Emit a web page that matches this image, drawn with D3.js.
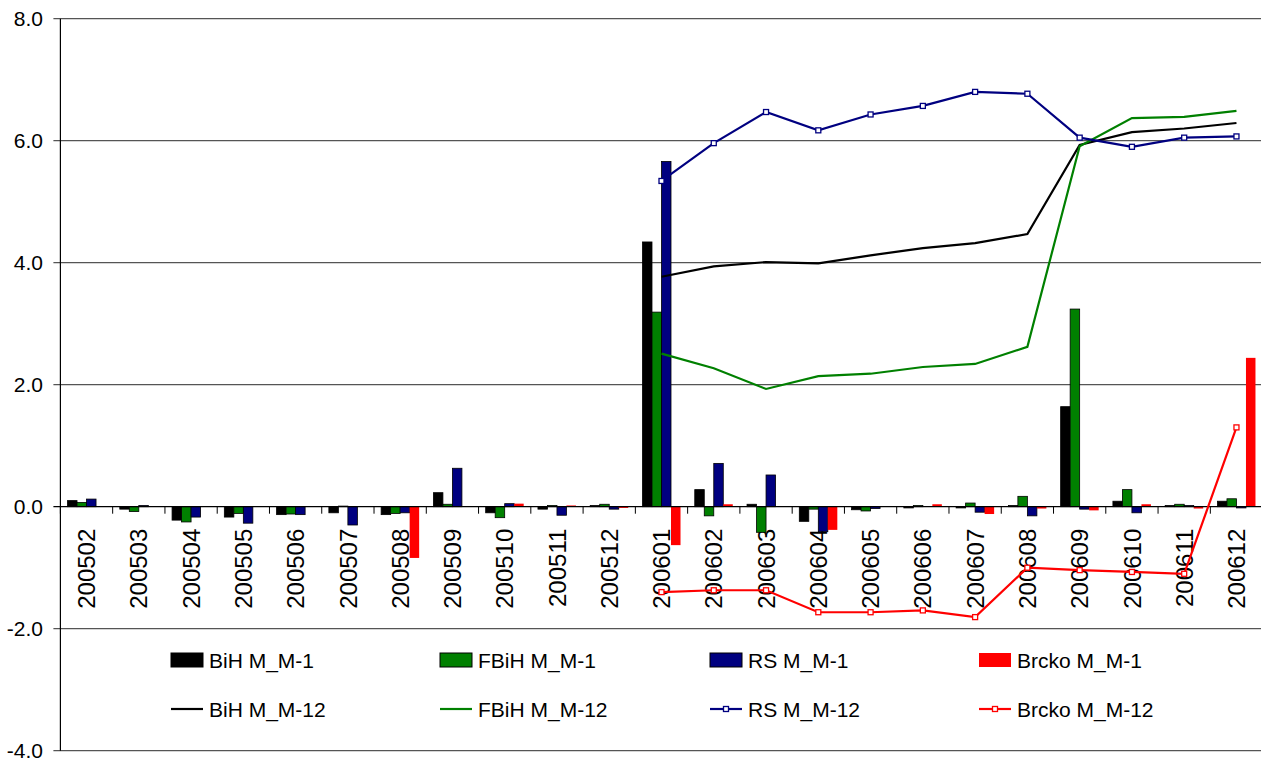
<!DOCTYPE html>
<html>
<head>
<meta charset="utf-8">
<script src="https://cdn.jsdelivr.net/npm/d3@7"></script>
<style>
  body { margin: 0; background: #fff; }
  svg { display: block; }
  .ylab { font-family: "Liberation Sans", Arial, sans-serif; font-size: 21px; }
  .xlab { font-family: "Liberation Sans Narrow", "Arial Narrow", "Liberation Sans", sans-serif; font-size: 24px; }
  .leg { font-family: "Liberation Sans", Arial, sans-serif; font-size: 21px; }
</style>
</head>
<body>
<svg id="chart" width="1261" height="762"></svg>
<script>
var months = ["200502","200503","200504","200505","200506","200507","200508","200509","200510","200511","200512",
  "200601","200602","200603","200604","200605","200606","200607","200608","200609","200610","200611","200612"];

// month-on-month change (bars)
var bih_m1   = [0.10,-0.04,-0.22,-0.17,-0.13,-0.10,-0.13,0.23,-0.10,-0.04,0.02,4.34,0.28,0.04,-0.24,-0.05,-0.02,-0.02,0.02,1.64,0.09,0.02,0.09];
var fbih_m1  = [0.07,-0.08,-0.25,-0.11,-0.12,0.01,-0.11,0.04,-0.18,0.02,0.04,3.19,-0.15,-0.42,-0.04,-0.07,0.02,0.06,0.17,3.24,0.28,0.04,0.13];
var rs_m1    = [0.125,0.02,-0.17,-0.27,-0.13,-0.30,-0.10,0.63,0.05,-0.14,-0.04,5.66,0.71,0.52,-0.41,-0.03,0.00,-0.09,-0.15,-0.04,-0.10,0.02,-0.02];
var brcko_m1 = [0,0,0,0,0,0,-0.84,0,0.05,0.02,-0.02,-0.63,0.04,0,-0.38,0,0.04,-0.12,-0.03,-0.06,0.04,-0.03,2.44];

// year-on-year change (lines), only from 200601
var bih_m12   = [null,null,null,null,null,null,null,null,null,null,null,3.77,3.94,4.01,3.99,4.12,4.24,4.32,4.47,5.93,6.14,6.20,6.29];
var fbih_m12  = [null,null,null,null,null,null,null,null,null,null,null,2.51,2.27,1.93,2.14,2.18,2.29,2.34,2.62,5.91,6.37,6.39,6.49];
var rs_m12    = [null,null,null,null,null,null,null,null,null,null,null,5.34,5.96,6.47,6.17,6.43,6.57,6.80,6.77,6.05,5.90,6.05,6.07];
var brcko_m12 = [null,null,null,null,null,null,null,null,null,null,null,-1.40,-1.37,-1.37,-1.73,-1.73,-1.70,-1.81,-1.00,-1.04,-1.07,-1.10,1.30];

var yTicks = [-4,-2,0,2,4,6,8];

var barSeries = [
  {name: "BiH M_M-1", values: bih_m1, color: "#000000", stroke: "#000"},
  {name: "FBiH M_M-1", values: fbih_m1, color: "#008000", stroke: "#000"},
  {name: "RS M_M-1", values: rs_m1, color: "#000080", stroke: "#000"},
  {name: "Brcko M_M-1", values: brcko_m1, color: "#ff0000", stroke: "none"}
];
var lineSeries = [
  {name: "BiH M_M-12", values: bih_m12, color: "#000000", marker: false},
  {name: "FBiH M_M-12", values: fbih_m12, color: "#008000", marker: false},
  {name: "RS M_M-12", values: rs_m12, color: "#000080", marker: true},
  {name: "Brcko M_M-12", values: brcko_m12, color: "#ff0000", marker: true}
];

var svg = d3.select("#chart");
var plotL = 60.4, plotR = 1262.6, plotT = 18.7, plotB = 750.7;

var x = d3.scaleBand().domain(months).range([plotL, plotR]).padding(0);
var y = d3.scaleLinear().domain([-4, 8]).range([plotB, plotT]);
var bw = x.bandwidth() / 5.5;

// gridlines
svg.append("g").selectAll("line")
  .data(yTicks.filter(function(d){ return d != 0; }))
  .enter().append("line")
  .attr("x1", plotL - 7).attr("x2", plotR)
  .attr("y1", function(d){ return y(d); }).attr("y2", function(d){ return y(d); })
  .attr("stroke", "#555").attr("stroke-width", 1.2);

svg.append("g").selectAll("text")
  .data(yTicks)
  .enter().append("text")
  .attr("class", "ylab")
  .attr("x", 43).attr("y", function(d){ return y(d); })
  .attr("dy", "0.36em")
  .attr("text-anchor", "end")
  .text(function(d){ return d.toFixed(1); });

// category labels
svg.append("g").selectAll("text")
  .data(months)
  .enter().append("text")
  .attr("class", "xlab")
  .attr("transform", function(d){ return "translate(" + (x(d) + x.bandwidth()/2) + "," + (y(0) + 22) + ")rotate(-90)"; })
  .attr("dy", "0.36em")
  .attr("text-anchor", "end")
  .text(function(d){ return d; });

// bars
barSeries.forEach(function(s, i){
  svg.append("g").selectAll("rect")
    .data(s.values)
    .enter().append("rect")
    .attr("x", function(d, j){ return x(months[j]) + 0.75*bw + i*bw; })
    .attr("y", function(d){ return y(Math.max(0, d)); })
    .attr("width", bw)
    .attr("height", function(d){ return Math.abs(y(d) - y(0)); })
    .attr("fill", s.color)
    .attr("stroke", function(d){ return d == 0 ? "none" : s.stroke; })
    .attr("stroke-width", 0.8);
});

// axes lines
svg.append("line")
  .attr("x1", plotL).attr("x2", plotL).attr("y1", plotT).attr("y2", plotB)
  .attr("stroke", "#000").attr("stroke-width", 1.2);
svg.append("line")
  .attr("x1", plotL - 7).attr("x2", plotR).attr("y1", y(0)).attr("y2", y(0))
  .attr("stroke", "#000").attr("stroke-width", 1.2);
svg.append("g").selectAll("line")
  .data(months.concat(["end"]))
  .enter().append("line")
  .attr("x1", function(d, j){ return plotL + j*x.bandwidth(); })
  .attr("x2", function(d, j){ return plotL + j*x.bandwidth(); })
  .attr("y1", y(0)).attr("y2", y(0) + 7)
  .attr("stroke", "#000").attr("stroke-width", 1);

// lines
var line = d3.line()
  .defined(function(d){ return d != null; })
  .x(function(d, j){ return x(months[j]) + x.bandwidth()/2; })
  .y(function(d){ return y(d); });

lineSeries.forEach(function(s){
  svg.append("path")
    .datum(s.values)
    .attr("d", line)
    .attr("fill", "none")
    .attr("stroke", s.color)
    .attr("stroke-width", 2.2);
  if (s.marker) {
    svg.append("g").selectAll("rect")
      .data(s.values.map(function(d, j){ return {v: d, m: months[j]}; }).filter(function(d){ return d.v != null; }))
      .enter().append("rect")
      .attr("x", function(d){ return x(d.m) + x.bandwidth()/2 - 2.5; })
      .attr("y", function(d){ return y(d.v) - 2.5; })
      .attr("width", 5).attr("height", 5)
      .attr("fill", "#fff")
      .attr("stroke", s.color).attr("stroke-width", 1.3);
  }
});

// legend
var legCols = [171, 440, 710, 979];
var leg = svg.append("g");
barSeries.forEach(function(s, i){
  var g = leg.append("g").attr("transform", "translate(" + legCols[i] + ",660)");
  g.append("rect").attr("x", 0).attr("y", -7).attr("width", 32).attr("height", 14)
    .attr("fill", s.color).attr("stroke", s.stroke).attr("stroke-width", 1);
  g.append("text").attr("class", "leg").attr("x", 38).attr("dy", "0.36em").text(s.name);
});
lineSeries.forEach(function(s, i){
  var g = leg.append("g").attr("transform", "translate(" + legCols[i] + ",709)");
  g.append("line").attr("x1", 0).attr("x2", 32).attr("stroke", s.color).attr("stroke-width", 2.2);
  if (s.marker) {
    g.append("rect").attr("x", 13.5).attr("y", -2.5).attr("width", 5).attr("height", 5)
      .attr("fill", "#fff").attr("stroke", s.color).attr("stroke-width", 1.3);
  }
  g.append("text").attr("class", "leg").attr("x", 38).attr("dy", "0.36em").text(s.name);
});
</script>
</body>
</html>
